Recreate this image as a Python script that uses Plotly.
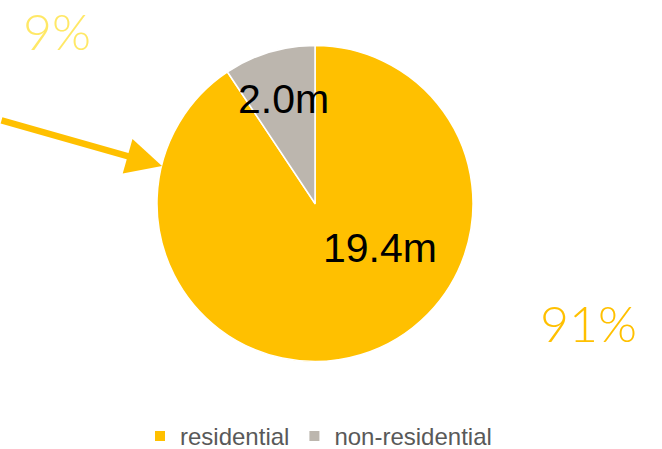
import plotly.graph_objects as go

# Floor area by use (millions)
categories = ["residential", "non-residential"]
values = [19.4, 2.0]
value_labels = [f"{v:.1f}m" for v in values]
total = sum(values)
shares = [f"{round(100 * v / total):d}%" for v in values]

W, H = 662, 449
GOLD = "#FFC000"
GREY = "#BCB6AE"
PALE = "#FFE866"


def px(x):
    return x / W


def py(y):
    return 1 - y / H


fig = go.Figure(
    go.Pie(
        labels=categories,
        values=values,
        sort=False,
        direction="clockwise",
        rotation=0,
        marker=dict(colors=[GOLD, GREY], line=dict(color="white", width=1.5)),
        textinfo="none",
        hoverinfo="label+value",
        domain=dict(x=[px(157), px(473)], y=[py(361.5), py(45.5)]),
    )
)

annotations = [
    # value labels inside slices
    dict(x=px(380), y=py(248), text=value_labels[0],
         font=dict(family="Arial, Liberation Sans", size=41, color="black")),
    dict(x=px(283), y=py(99), text=value_labels[1],
         font=dict(family="Arial, Liberation Sans", size=41, color="black")),
    # share labels
    dict(x=px(588), y=py(323), text=shares[0],
         font=dict(family="Lato", size=50, color=GOLD, weight=300)),
    dict(x=px(57), y=py(31), text=shares[1],
         font=dict(family="Lato", size=50, color=PALE, weight=300)),
    # pointer arrow
    dict(x=px(162), y=py(166), ax=-168, ay=-46, text="", showarrow=True,
         arrowhead=2, arrowsize=1.1, arrowwidth=6.5, arrowcolor=GOLD,
         standoff=0),
]
for a in annotations:
    a.setdefault("xref", "paper")
    a.setdefault("yref", "paper")
    a.setdefault("showarrow", False)
    a.setdefault("xanchor", "center")
    a.setdefault("yanchor", "middle")

fig.update_layout(
    width=W,
    height=H,
    margin=dict(l=0, r=0, t=0, b=0, autoexpand=False),
    paper_bgcolor="white",
    plot_bgcolor="white",
    annotations=annotations,
    showlegend=True,
    legend=dict(
        orientation="h",
        x=px(140),
        y=py(414),
        xanchor="left",
        yanchor="top",
        font=dict(family="Arial, Liberation Sans", size=24, color="#595959"),
        itemsizing="constant",
        traceorder="normal",
    ),
)

fig.write_html("out.html")
